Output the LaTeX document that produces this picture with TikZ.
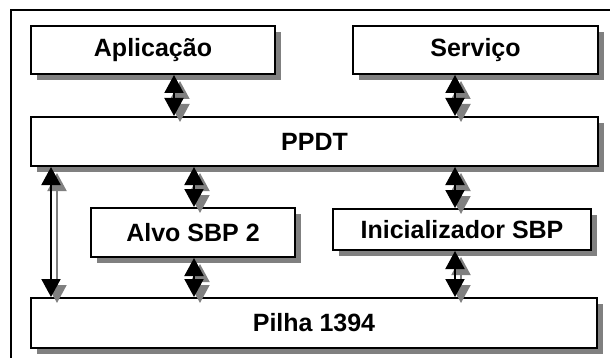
\documentclass[tikz,border=0pt]{standalone}
\usepackage{fontspec}
\setmainfont{Liberation Sans}
\usetikzlibrary{arrows.meta,shadows}
\begin{document}
\begin{tikzpicture}[
  x=0.5pt, y=-0.5pt,
  layer/.style={rectangle, draw, line width=1pt, fill=white, inner sep=0pt, font=\bfseries\fontsize{12.5}{15}\selectfont, drop shadow={opacity=1, fill=black!50, shadow xshift=3pt, shadow yshift=-3pt}},
  link/.style={{Triangle[width=9.5pt,length=9pt]}-{Triangle[width=9.5pt,length=9pt]}, line width=1pt},
  linkshadow/.style={link, draw=black!50, transform canvas={shift={(3pt,-3pt)}}}
]
\useasboundingbox (0,0) rectangle (610,358);
\draw[line width=1pt] (11,362) -- (11,10) -- (614,10);

\node[layer, minimum width=122pt, minimum height=24pt] (app) at (153,50) {Aplicação};
\node[layer, minimum width=122.5pt, minimum height=24pt] (serv) at (475.5,50) {Serviço};
\node[layer, minimum width=283.5pt, minimum height=24.5pt] (ppdt) at (314.5,141.5) {PPDT};
\node[layer, minimum width=102pt, minimum height=24.5pt] (alvo) at (193,232.5) {Alvo SBP 2};
\node[layer, minimum width=129pt, minimum height=20.5pt] (ini) at (462,229.5) {Inicializador SBP};
\node[layer, minimum width=283pt, minimum height=25pt] (pilha) at (314,323) {Pilha 1394};

% shadows first, then the black arrows
\draw[linkshadow] ([xshift=10.5pt]app.south) -- ([xshift=-70.25pt]ppdt.north);
\draw[linkshadow] ([xshift=-10.25pt]serv.south) -- ([xshift=70.25pt]ppdt.north);
\draw[linkshadow] ([xshift=-60.25pt]ppdt.south) -- ([xshift=0.5pt]alvo.north);
\draw[linkshadow] ([xshift=70.25pt]ppdt.south) -- ([xshift=-3.5pt]ini.north);
\draw[linkshadow] ([xshift=0.5pt]alvo.south) -- ([xshift=-60pt]pilha.north);
\draw[linkshadow] ([xshift=-3.5pt]ini.south) -- ([xshift=70.5pt]pilha.north);
\draw[linkshadow] ([xshift=-131.75pt]ppdt.south) -- ([xshift=-131.5pt]pilha.north);

\draw[link] ([xshift=10.5pt]app.south) -- ([xshift=-70.25pt]ppdt.north);
\draw[link] ([xshift=-10.25pt]serv.south) -- ([xshift=70.25pt]ppdt.north);
\draw[link] ([xshift=-60.25pt]ppdt.south) -- ([xshift=0.5pt]alvo.north);
\draw[link] ([xshift=70.25pt]ppdt.south) -- ([xshift=-3.5pt]ini.north);
\draw[link] ([xshift=0.5pt]alvo.south) -- ([xshift=-60pt]pilha.north);
\draw[link] ([xshift=-3.5pt]ini.south) -- ([xshift=70.5pt]pilha.north);
\draw[link] ([xshift=-131.75pt]ppdt.south) -- ([xshift=-131.5pt]pilha.north);
\end{tikzpicture}
\end{document}
